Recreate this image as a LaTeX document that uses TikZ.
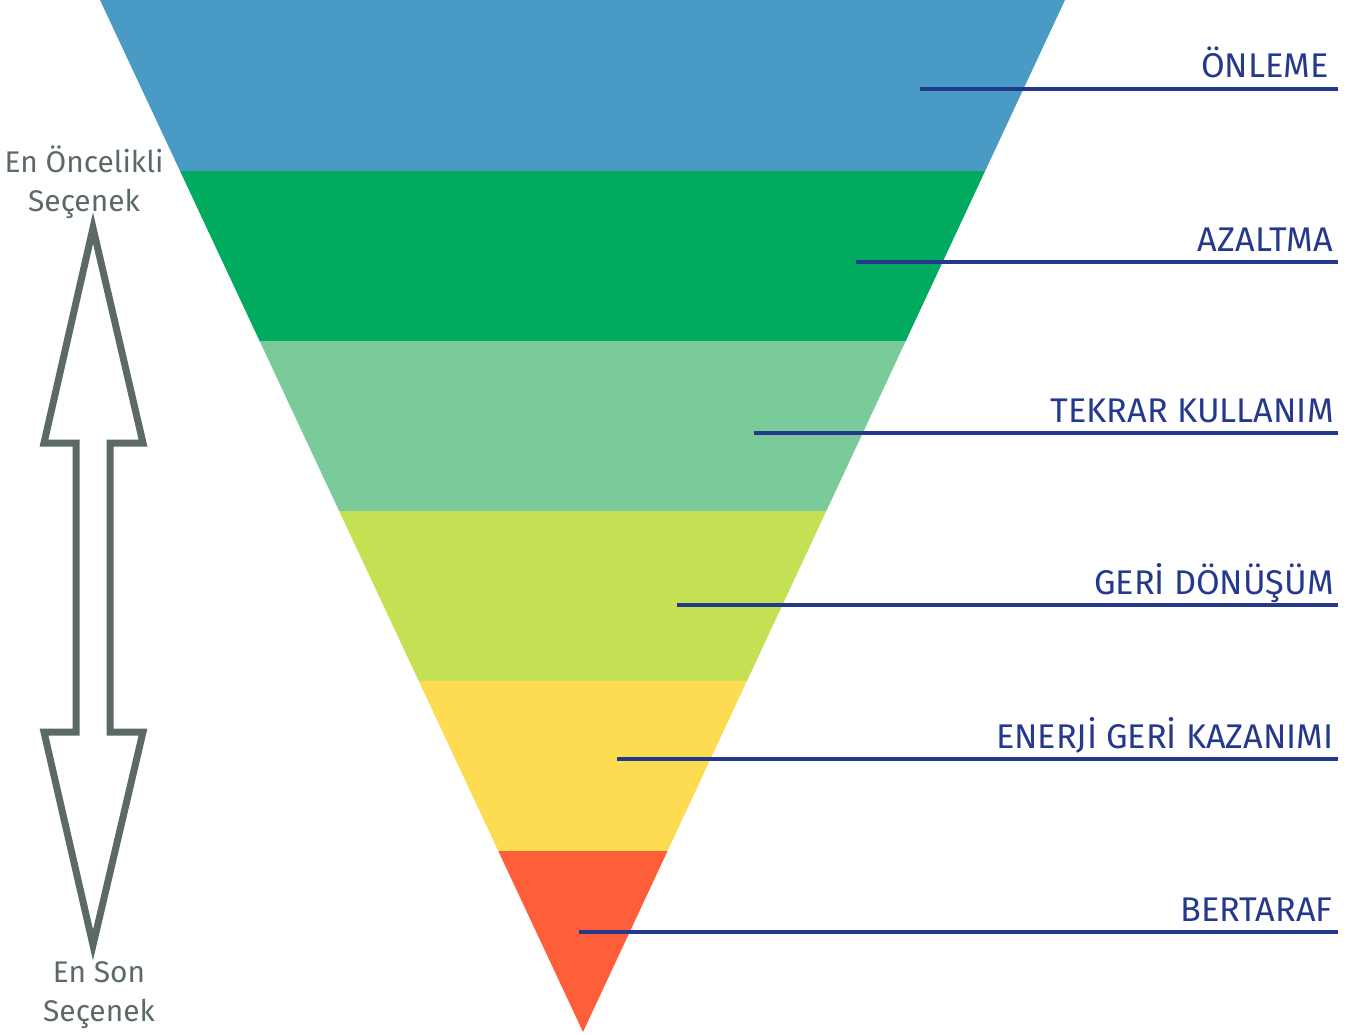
\documentclass[tikz,border=0pt]{standalone}
\usepackage{fontspec}
\setmainfont{Fira Sans}
\usetikzlibrary{positioning, calc}
\usepackage{xcolor}
\definecolor{wblue}{HTML}{4A9AC6}
\definecolor{wgreen}{HTML}{00AA5E}
\definecolor{wmint}{HTML}{7BCB9A}
\definecolor{wlime}{HTML}{C3E153}
\definecolor{wyellow}{HTML}{FEDC52}
\definecolor{wred}{HTML}{FF5E3B}
\definecolor{wnavy}{HTML}{25398C}
\definecolor{wgray}{HTML}{5B6B63}

\tikzset{
    level label/.style = {%
        anchor=base east, inner sep=0pt, text=wnavy,
        font=\fontsize{19.5}{24}\selectfont},
    level line/.style = {draw=wnavy, line width=0.07cm},
    side label/.style = {%
        align=center, inner sep=0pt, text=wgray,
        font=\fontsize{17}{22}\selectfont}
}

\begin{document}
\begin{tikzpicture}[x=0.02cm, y=-0.02cm]
    % Page frame
    \useasboundingbox (0,0) rectangle (1348,1034);

    % Inverted triangle, cut into six bands
    \begin{scope}
        \clip (100,0) -- (1065,0) -- (583,1032) -- cycle;
        \fill[wblue]   (0,0)   rectangle (1348,171);
        \fill[wgreen]  (0,171) rectangle (1348,341);
        \fill[wmint]   (0,341) rectangle (1348,511);
        \fill[wlime]   (0,511) rectangle (1348,681);
        \fill[wyellow] (0,681) rectangle (1348,851);
        \fill[wred]    (0,851) rectangle (1348,1034);
    \end{scope}

    % Start and end points of the label lines
    \coordinate (s1) at (920,89);   \coordinate (e1) at (1338,89);
    \coordinate (s2) at (856,262);  \coordinate (e2) at (1338,262);
    \coordinate (s3) at (754,433);  \coordinate (e3) at (1338,433);
    \coordinate (s4) at (677,605);  \coordinate (e4) at (1338,605);
    \coordinate (s5) at (617,759);  \coordinate (e5) at (1338,759);
    \coordinate (s6) at (579,932);  \coordinate (e6) at (1338,932);

    % Level names
    \node[level label] (l1) at (1329,78)  {ÖNLEME};
    \node[level label] (l2) at (1333,251) {AZALTMA};
    \node[level label] (l3) at (1334,422) {TEKRAR KULLANIM};
    \node[level label] (l4) at (1334,594) {GERİ DÖNÜŞÜM};
    \node[level label] (l5) at (1334,748) {ENERJİ GERİ KAZANIMI};
    \node[level label] (l6) at (1333,921) {BERTARAF};

    % Label lines
    \foreach \i in {1,...,6}
        \draw[level line] (s\i) -- (e\i);

    % Double arrow on the left
    \draw[wgray, line width=0.14cm, miter limit=20]
        (93,228) -- (143,443) -- (110,443) -- (110,732) -- (143,732)
        -- (93,945) -- (44,732) -- (76,732) -- (76,443) -- (44,443) -- cycle;

    % Arrow end captions
    \node[side label] (top) at (84,182)  {En Öncelikli\\Seçenek};
    \node[side label] (bot) at (99,995)  {En Son\\Seçenek};
\end{tikzpicture}
\end{document}
